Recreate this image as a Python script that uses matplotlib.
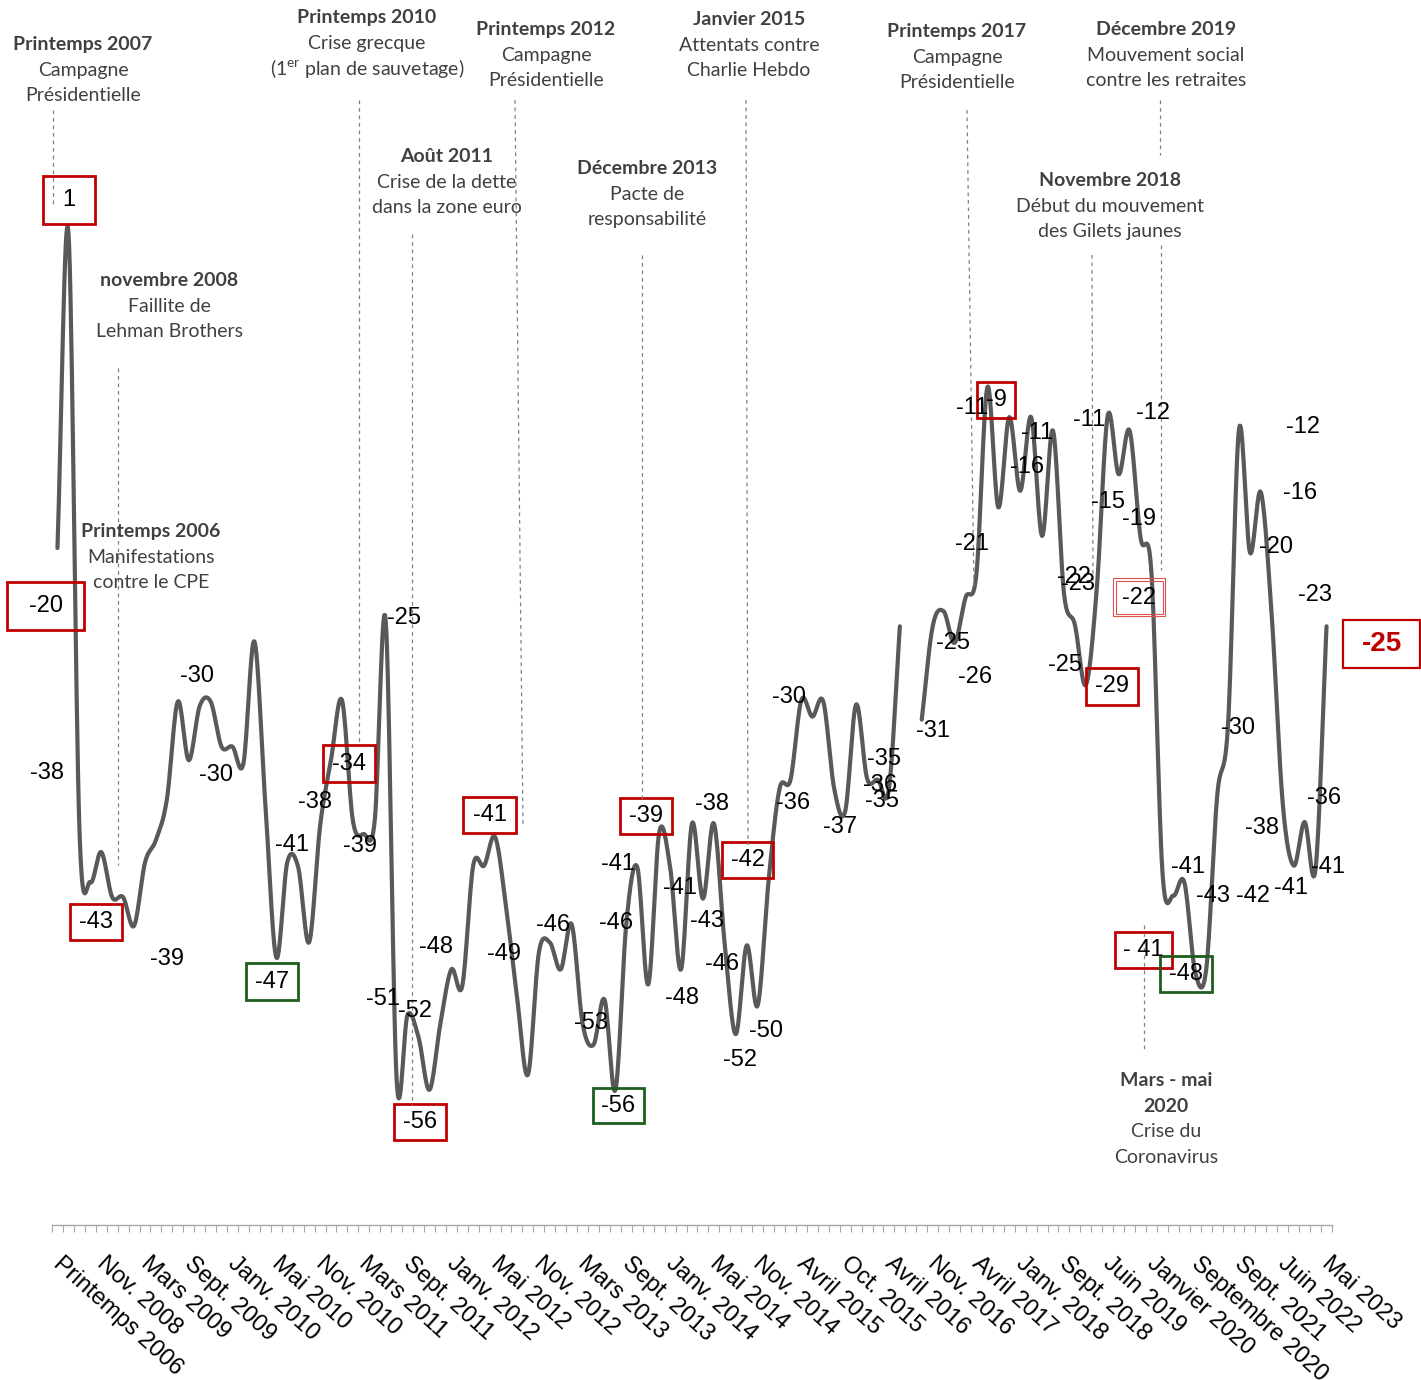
import numpy as np
import matplotlib.pyplot as plt
import matplotlib.transforms as mtransforms
from matplotlib.patches import Rectangle

W, H = 1421, 1380

# tick labels (one every 4 categories)
tick_labels = ["Printemps 2006", "Nov. 2008", "Mars 2009", "Sept. 2009", "Janv. 2010",
               "Mai 2010", "Nov. 2010", "Mars 2011", "Sept. 2011", "Janv. 2012",
               "Mai 2012", "Nov. 2012", "Mars 2013", "Sept. 2013", "Janv. 2014",
               "Mai 2014", "Nov. 2014", "Avril 2015", "Oct. 2015", "Avril 2016",
               "Nov. 2016", "Avril 2017", "Janv. 2018", "Sept. 2018", "Juin 2019",
               "Janvier 2020", "Septembre 2020", "Sept. 2021", "Juin 2022", "Mai 2023"]
label_step = 4

# series values (nan = missing survey)
values = [
    -20, 1, -38.5, -42.2, -40.2, -43.2, -43.2, -45.1, -40.9, -39.4,
    -36.7, -30.2, -34.1, -30.5, -30.2, -33.2, -33.2, -34.3, -26.2, -37,
    -47.2, -40.9, -41.2, -46.2, -38.5, -34.1, -30.1, -38.1, -39.0, -38.1,
    -24.8, -55.3, -51.0, -52.5, -56.0, -51.6, -48.0, -49.1, -41.1, -41.1,
    -39.2, -43.8, -49.8, -55.0, -46.9, -46.2, -48.0, -45.0, -51.6, -53.0,
    -50.0, -56.0, -44.9, -41.2, -49.0, -38.9, -41.2, -48.0, -38.3, -43.3,
    -38.3, -46.4, -52.3, -46.4, -50.4, -42.1, -36.0, -35.4, -30.1, -31.2,
    -30.2, -36.0, -37.5, -30.4, -35.3, -35.4, -36.0, -25.2, np.nan, -31.4,
    -25.2, -24.2, -26.3, -23.3, -21.7, -9.3, -17.3, -11.3, -16.2, -11.3,
    -19.2, -12.2, -23.0, -25.1, -29.1, -22.7, -11.2, -15.1, -12.2, -19.3,
    -21.7, -41.5, -43.1, -42.2, -48.2, -48.0, -36.5, -31.7, -12.1, -20.3,
    -16.3, -24.6, -37.0, -41.1, -38.2, -41.3, -25.2,
]

# floating data labels (text, x px, y px)
data_labels = [
    ("-38", 47, 773), ("-39", 167, 959), ("-30", 197, 676), ("-30", 216, 775),
    ("-41", 292, 845), ("-38", 315, 802), ("-39", 360, 846), ("-25", 404, 618),
    ("-51", 383, 999), ("-52", 415, 1011), ("-48", 436, 947), ("-49", 504, 954),
    ("-46", 553, 925), ("-53", 591, 1023), ("-41", 618, 864), ("-46", 616, 923),
    ("-41", 680, 888), ("-38", 712, 804), ("-43", 707, 921), ("-48", 682, 998),
    ("-46", 722, 964), ("-52", 740, 1060), ("-50", 766, 1031), ("-30", 789, 697),
    ("-36", 793, 803), ("-37", 840, 827), ("-35", 884, 759), ("-36", 880, 785),
    ("-35", 882, 801), ("-31", 933, 731), ("-25", 953, 643), ("-26", 975, 677),
    ("-21", 972, 544), ("-11", 972, 408), ("-11", 1037, 433), ("-16", 1027, 467),
    ("-22", 1074, 577), ("-23", 1078, 584), ("-25", 1065, 665), ("-11", 1089, 420),
    ("-15", 1108, 502), ("-12", 1153, 413), ("-19", 1139, 519), ("-41", 1188, 867),
    ("-43", 1213, 896), ("-42", 1253, 896), ("-30", 1238, 728), ("-12", 1303, 427),
    ("-16", 1300, 493), ("-20", 1276, 547), ("-23", 1315, 595), ("-38", 1262, 828),
    ("-41", 1291, 888), ("-36", 1324, 798), ("-41", 1328, 867),
]

# boxed labels (text, x0, y0, x1, y1, colour)
RED, GREEN = "#C00000", "#1E5E1E"
boxed_labels = [
    ("1", 43, 176, 95, 224, RED), ("-20", 7, 582, 84, 630, RED),
    ("-43", 70, 904, 122, 940, RED), ("-47", 246, 963, 298, 1000, GREEN),
    ("-34", 323, 745, 375, 782, RED), ("-41", 463, 797, 516, 833, RED),
    ("-56", 394, 1104, 446, 1140, RED), ("-39", 620, 798, 672, 834, RED),
    ("-56", 593, 1088, 644, 1123, GREEN), ("-42", 722, 842, 773, 878, RED),
    ("-9", 977, 382, 1015, 418, RED), ("-29", 1086, 668, 1138, 705, RED),
    ("- 41", 1115, 932, 1172, 968, RED), ("-48", 1160, 956, 1212, 992, GREEN),
]

# events: (x centre, y of first line, [lines], number of bold lines)
events = [
    (83, 43, ["Printemps 2007", "Campagne", "Présidentielle"], 1),
    (169, 279, ["novembre 2008", "Faillite de", "Lehman Brothers"], 1),
    (151, 530, ["Printemps 2006", "Manifestations", "contre le CPE"], 1),
    (367, 16, ["Printemps 2010", "Crise grecque", r"(1$^{\mathrm{er}}$ plan de sauvetage)"], 1),
    (447, 155, ["Août 2011", "Crise de la dette", "dans la zone euro"], 1),
    (546, 28, ["Printemps 2012", "Campagne", "Présidentielle"], 1),
    (647, 167, ["Décembre 2013", "Pacte de", "responsabilité"], 1),
    (749, 18, ["Janvier 2015", "Attentats contre", "Charlie Hebdo"], 1),
    (957, 30, ["Printemps 2017", "Campagne", "Présidentielle"], 1),
    (1166, 28, ["Décembre 2019", "Mouvement social", "contre les retraites"], 1),
    (1110, 179, ["Novembre 2018", "Début du mouvement", "des Gilets jaunes"], 1),
    (1166, 1079, ["Mars - mai", "2020", "Crise du", "Coronavirus"], 2),
]

# dashed event guides (x0, y0, x1, y1)
guides = [
    (53, 110, 53, 205), (118, 368, 118, 865), (359, 100, 359, 745),
    (412, 234, 412, 1105), (515, 100, 523, 825), (642, 255, 642, 800),
    (746, 100, 748, 845), (967, 110, 974, 590), (1092, 255, 1093, 585),
    (1160, 100, 1160, 155), (1161, 245, 1161, 570), (1144, 925, 1144, 1050),
]


def smooth(x, y, n=16):
    # Catmull-Rom style smoothing (like Excel's smoothed line)
    x = np.asarray(x, float)
    y = np.asarray(y, float)
    m = np.empty_like(y)
    m[1:-1] = (y[2:] - y[:-2]) / 2
    m[0] = y[1] - y[0]
    m[-1] = y[-1] - y[-2]
    t = np.linspace(0, 1, n, endpoint=False)
    h00 = 2 * t**3 - 3 * t**2 + 1
    h10 = t**3 - 2 * t**2 + t
    h01 = -2 * t**3 + 3 * t**2
    h11 = t**3 - t**2
    xs, ys = [], []
    for i in range(len(y) - 1):
        xs.append(x[i] + t * (x[i + 1] - x[i]))
        ys.append(h00 * y[i] + h10 * m[i] + h01 * y[i + 1] + h11 * m[i + 1])
    xs.append([x[-1]])
    ys.append([y[-1]])
    return np.concatenate(xs), np.concatenate(ys)


plt.rcParams['mathtext.fontset'] = 'custom'
plt.rcParams['mathtext.rm'] = 'Lato'

fig = plt.figure(figsize=(W / 100, H / 100), dpi=100)

# main axes: value 1 at y=232px, 15.05 px per point, axis line at y=1225px
y_axis_px = 1225
px_per_unit = 15.05
ax = fig.add_axes([52 / W, (H - y_axis_px) / H, (1332 - 52) / W, y_axis_px / H])
n = len(values)
cats = np.arange(n)
vals = np.array(values, float)
ax.set_xlim(-0.5, n - 0.5)
ax.set_ylim(1 - (y_axis_px - 232) / px_per_unit, 1 + 232 / px_per_unit)

# draw each continuous run of the series
ok = ~np.isnan(vals)
start = None
for i in range(n + 1):
    if i < n and ok[i]:
        if start is None:
            start = i
    elif start is not None:
        xs, ys = smooth(cats[start:i], vals[start:i])
        ax.plot(xs, ys, color="#595959", lw=3, solid_capstyle='round',
                solid_joinstyle='round', zorder=3)
        start = None

for s in ['left', 'right', 'top']:
    ax.spines[s].set_visible(False)
ax.spines['bottom'].set_color("#A6A6A6")
ax.spines['bottom'].set_linewidth(1)
ax.set_yticks([])
ax.set_xticks(cats[::label_step])
ax.set_xticklabels(tick_labels, fontsize=17, family=['Liberation Sans'])
ax.set_xticks(np.arange(-0.5, n, 1), minor=True)
ax.tick_params(axis='x', which='minor', length=5, width=0.8, color="#A6A6A6")
ax.tick_params(axis='x', which='major', length=0, pad=20)
offset = mtransforms.ScaledTranslation(0.06, 0, fig.dpi_scale_trans)
for lab in ax.get_xticklabels():
    lab.set_rotation(-42)
    lab.set_ha('left')
    lab.set_va('top')
    lab.set_rotation_mode('anchor')
    lab.set_transform(lab.get_transform() + offset)

# overlay in pixel coordinates for annotations
ov = fig.add_axes([0, 0, 1, 1], zorder=5)
ov.set_xlim(0, W)
ov.set_ylim(H, 0)
ov.axis('off')

for x0, y0, x1, y1 in guides:
    ov.plot([x0, x1], [y0, y1], color="#808080", lw=0.9, dashes=(3, 3))

for x, y, lines, nb in events:
    for k, line in enumerate(lines):
        ov.text(x, y + 1.5 + k * 25.7, line, ha='center', va='center', color="#404040",
                fontsize=14, family=['Lato'], fontweight='bold' if k < nb else 'normal')

for txt, x, y in data_labels:
    ov.text(x, y, txt, ha='center', va='center', fontsize=17,
            family=['Liberation Sans'], color='black')

for txt, x0, y0, x1, y1, col in boxed_labels:
    ov.add_patch(Rectangle((x0, y0), x1 - x0, y1 - y0, fill=False, edgecolor=col, lw=2))
    ov.text((x0 + x1) / 2, (y0 + y1) / 2, txt, ha='center', va='center', fontsize=17,
            family=['Liberation Sans'], color='black')

# double-framed -22
ov.add_patch(Rectangle((1113, 578), 52, 38, fill=False, edgecolor="#D9534F", lw=0.8))
ov.add_patch(Rectangle((1115.5, 580.5), 47, 33, fill=False, edgecolor="#D9534F", lw=0.8))
ov.text(1139, 598, "-22", ha='center', va='center', fontsize=17,
        family=['Liberation Sans'], color='black')

# latest value
ov.add_patch(Rectangle((1343, 620), 77, 48, fill=False, edgecolor=RED, lw=1.6))
ov.text(1382, 644, "-25", ha='center', va='center', fontsize=20, fontweight='bold',
        family=['Liberation Sans'], color=RED)

fig.savefig("out.png", dpi=100)
